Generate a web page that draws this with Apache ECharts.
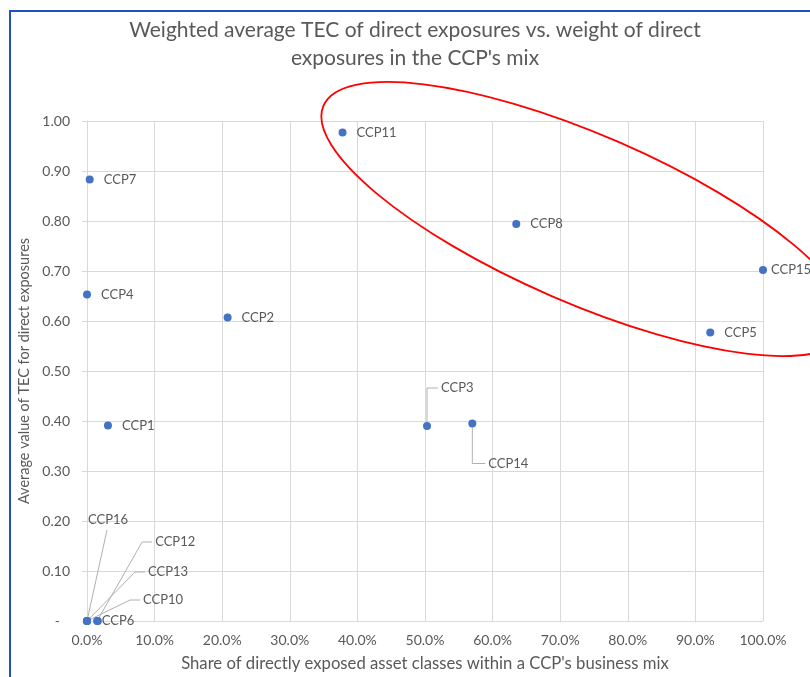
<!DOCTYPE html>
<html>
<head>
<meta charset="utf-8">
<title>Weighted average TEC of direct exposures</title>
<script src="https://cdn.jsdelivr.net/npm/echarts@6/dist/echarts.min.js"></script>
<style>
html, body { margin: 0; padding: 0; background: #fff; }
#chart { width: 810px; height: 677px; }
</style>
</head>
<body>
<div id="chart"></div>
<script>
// values
var ccpNames = ['CCP1', 'CCP2', 'CCP3', 'CCP4', 'CCP5', 'CCP6', 'CCP7', 'CCP8',
                'CCP10', 'CCP11', 'CCP12', 'CCP13', 'CCP14', 'CCP15', 'CCP16'];
var shareDirect = [0.031, 0.208, 0.503, 0.000, 0.922, 0.016, 0.004, 0.635,
                   0.000, 0.378, 0.015, 0.000, 0.570, 1.000, 0.000];
var avgTec = [0.391, 0.607, 0.390, 0.653, 0.577, 0.000, 0.883, 0.794,
              0.000, 0.977, 0.000, 0.000, 0.395, 0.702, 0.000];

// labels Excel moved, with the shape of their leader line
var labelMoves = {
    CCP3:  { dx: 0,   dy: -38,  line: 'elbowV' },
    CCP14: { dx: 2,   dy: 40,   line: 'elbowV' },
    CCP16: { dx: -13, dy: -101, line: 'direct' },
    CCP12: { dx: 44,  dy: -79,  line: 'elbowH' },
    CCP13: { dx: 47,  dy: -49,  line: 'elbowH' },
    CCP10: { dx: 42,  dy: -21,  line: 'elbowH' }
};
var labelGap = { CCP6: 0, CCP15: 4 };

var grey = '#595959';
var font = 'Lato, "Open Sans", sans-serif';
var dotSize = 8;
var labelDist = 10;

var points = ccpNames.map(function (name, i) {
    var item = { name: name, value: [shareDirect[i], avgTec[i]] };
    if (name in labelGap) {
        item.label = { distance: labelGap[name] };
    }
    return item;
});

var leaderPoints = points.filter(function (p) { return p.name in labelMoves; });

// leader line from a dot to its moved label
function renderLeader(params, api) {
    var m = labelMoves[leaderPoints[params.dataIndex].name];
    var c = api.coord([api.value(0), api.value(1)]);
    var r = dotSize / 2;
    var left = c[0] + r + labelDist + m.dx;
    var mid = c[1] + m.dy;
    var gap = 3;
    function fromDot(tx, ty) {
        var d = Math.sqrt((tx - c[0]) * (tx - c[0]) + (ty - c[1]) * (ty - c[1])) || 1;
        return [c[0] + (tx - c[0]) / d * r, c[1] + (ty - c[1]) / d * r];
    }
    var pts;
    if (m.line === 'elbowV') {
        var s = mid < c[1] ? -1 : 1;
        pts = [[c[0], c[1] + s * r], [c[0], mid], [left - gap, mid]];
    } else if (m.line === 'elbowH') {
        var elbow = [left - gap - 10, mid];
        pts = [fromDot(elbow[0], elbow[1]), elbow, [left - gap, mid]];
    } else {
        var end = [left + 19, mid + 10];
        pts = [fromDot(end[0], end[1]), end];
    }
    return {
        type: 'polyline',
        shape: { points: pts },
        style: { stroke: '#b0b0b0', lineWidth: 1, fill: null }
    };
}

var chart = echarts.init(document.getElementById('chart'));

var option = {
    backgroundColor: '#fff',
    textStyle: { fontFamily: font },
    title: {
        text: 'Weighted average TEC of direct exposures vs. weight of direct\nexposures in the CCP\'s mix',
        left: 410,
        top: 11,
        textAlign: 'center',
        textStyle: {
            color: grey,
            fontFamily: font,
            fontSize: 21,
            fontWeight: 'normal',
            lineHeight: 28
        }
    },
    grid: { left: 87, right: 47, top: 121, bottom: 56, containLabel: false },
    xAxis: {
        type: 'value',
        min: 0,
        max: 1,
        interval: 0.1,
        name: 'Share of directly exposed asset classes within a CCP\'s business mix',
        nameLocation: 'middle',
        nameGap: 34,
        nameTextStyle: { color: grey, fontSize: 16.7, fontFamily: font },
        axisLine: { show: true, lineStyle: { color: '#d9d9d9' } },
        axisTick: { show: false },
        axisLabel: {
            color: grey,
            fontSize: 14,
            margin: 12,
            formatter: function (v) { return (v * 100).toFixed(1) + '%'; }
        },
        splitLine: { lineStyle: { color: '#d9d9d9' } }
    },
    yAxis: {
        type: 'value',
        min: 0,
        max: 1,
        interval: 0.1,
        name: 'Average value of TEC for direct exposures',
        nameLocation: 'middle',
        nameGap: 52,
        nameTextStyle: { color: grey, fontSize: 14.5, fontFamily: font },
        axisLine: { show: true, lineStyle: { color: '#d9d9d9' } },
        axisTick: { show: true, length: 5, lineStyle: { color: '#d9d9d9' } },
        axisLabel: {
            color: grey,
            fontSize: 14,
            margin: 17,
            formatter: function (v) {
                return v === 0 ? '{dash|-}' : v.toFixed(2);
            },
            rich: { dash: { color: grey, fontSize: 14, padding: [0, 10, 0, 0] } }
        },
        splitLine: { lineStyle: { color: '#d9d9d9' } }
    },
    series: [
        {
            type: 'custom',
            renderItem: renderLeader,
            silent: true,
            z: 1,
            data: leaderPoints
        },
        {
            type: 'scatter',
            symbolSize: dotSize,
            z: 2,
            itemStyle: { color: '#4472c4', opacity: 1 },
            label: {
                show: true,
                position: 'right',
                distance: labelDist,
                color: grey,
                fontSize: 13,
                formatter: '{b}'
            },
            labelLayout: function (p) {
                var m = labelMoves[ccpNames[p.dataIndex]];
                return m ? { dx: m.dx, dy: m.dy } : {};
            },
            data: points
        }
    ],
    graphic: [
        {
            type: 'ellipse',
            x: 585,
            y: 219,
            rotation: -0.409,
            shape: { cx: 0, cy: 0, rx: 285, ry: 84 },
            style: { fill: 'none', stroke: '#ff0000', lineWidth: 1.8 },
            z: 100
        },
        {
            type: 'rect',
            shape: { x: 10, y: 11, width: 900, height: 900 },
            style: { fill: 'none', stroke: '#2050b8', lineWidth: 2 },
            z: 100
        }
    ]
};

chart.setOption(option);
</script>
</body>
</html>
